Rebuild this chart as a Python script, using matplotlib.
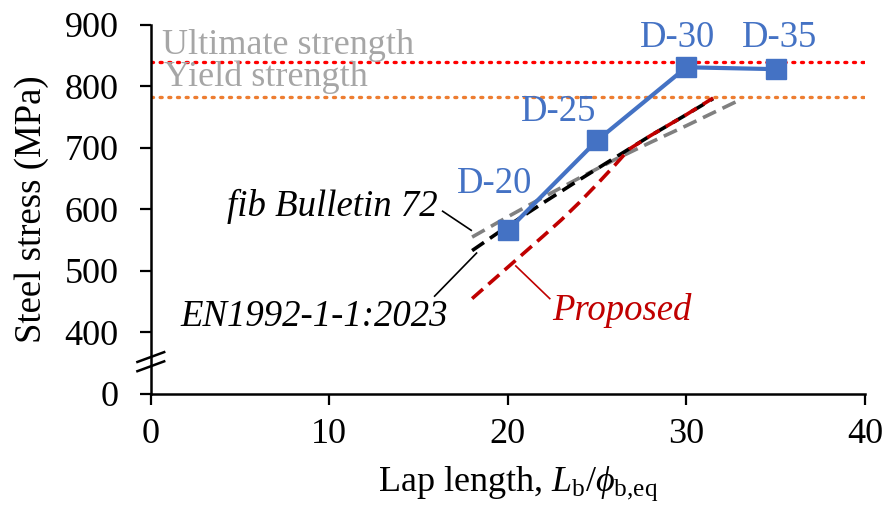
import numpy as np
import matplotlib.pyplot as plt

plt.rcParams['font.family'] = ['Liberation Serif', 'DejaVu Serif']
plt.rcParams['mathtext.fontset'] = 'custom'
plt.rcParams['mathtext.rm'] = 'Liberation Serif'
plt.rcParams['mathtext.it'] = 'Liberation Serif:italic'

# test results
specimens = ['D-20', 'D-25', 'D-30', 'D-35']
lap_test = [20, 25, 30, 35]
stress_test = [566, 712, 831, 828]

# design code curves
lap_fib = [18, 20, 22, 24, 26, 28, 30, 33]
stress_fib = [555, 588, 620, 651, 681, 709, 736, 778]
lap_en = [18, 20, 22, 24, 26, 28, 30, 31.5]
stress_en = [533, 573, 611, 648, 684, 720, 754, 780]
lap_prop = [18, 20, 22, 23, 24, 25, 26, 26.8, 28, 29, 30, 31.5]
stress_prop = [455, 506, 557, 583, 611, 641, 672, 698, 720, 737, 754, 781]

f_ult = 840
f_yield = 782

# y axis is broken: 0 drawn one step below 400
y_ticks = [0, 400, 500, 600, 700, 800, 900]
y_zero_pos = 300

blue = '#4472C4'
dark_red = '#C00000'

fig = plt.figure(figsize=(8.87, 5.07), dpi=100)
ax = fig.add_axes([0.170, 0.223, 0.805, 0.728])

ax.axhline(f_ult, color='#FF0000', lw=2.4, ls=(0, (0.6, 2.0)), dash_capstyle='round')
ax.axhline(f_yield, color='#ED7D31', lw=2.4, ls=(0, (0.6, 2.0)), dash_capstyle='round')
ax.text(0.65, 852, 'Ultimate strength', color='#A6A6A6', fontsize=26, ha='left', va='baseline')
ax.text(0.75, 801, 'Yield strength', color='#A6A6A6', fontsize=26, ha='left', va='baseline')

ax.plot(lap_fib, stress_fib, color='#808080', lw=2.6, ls=(0, (4, 2)))
ax.plot(lap_en, stress_en, color='black', lw=2.6, ls=(0, (4, 2)))
ax.plot(lap_prop, stress_prop, color=dark_red, lw=2.6, ls=(0, (4, 2)))

ax.plot(lap_test, stress_test, color=blue, lw=3, marker='s', ms=14, zorder=5)
label_offsets = [(-0.75, 76), (-2.15, 46), (-0.5, 48), (0.2, 51)]
for name, x, y, (dx, dy) in zip(specimens, lap_test, stress_test, label_offsets):
    ax.text(x + dx, y + dy, name, color=blue, fontsize=26.5, ha='center', va='center')

# curve labels with leader lines
ax.text(16.05, 589, 'fib Bulletin 72', style='italic', fontsize=26.5, ha='right', va='baseline')
ax.plot([16.35, 17.95], [597, 566], color='black', lw=1.2)
ax.text(16.65, 410, 'EN1992-1-1:2023', style='italic', fontsize=26.5, ha='right', va='baseline')
ax.plot([15.9, 18.25], [459, 529], color='black', lw=1.2)
ax.text(22.5, 421, 'Proposed', style='italic', color=dark_red, fontsize=26.5, ha='left', va='baseline')
ax.plot([20.45, 22.35], [508, 455], color=dark_red, lw=1.2)

ax.set_xlim(0, 40)
ax.set_ylim(y_zero_pos, 900)
ax.set_xticks([0, 10, 20, 30, 40])
ax.set_yticks([y_zero_pos] + y_ticks[1:])
ax.set_yticklabels([str(v) for v in y_ticks])
ax.tick_params(labelsize=26, width=1.6, length=8, direction='out')
ax.tick_params(axis='x', pad=9)
ax.tick_params(axis='y', pad=15)
for side in ['top', 'right']:
    ax.spines[side].set_visible(False)
for side in ['left', 'bottom']:
    ax.spines[side].set_linewidth(1.8)

# break marks on the y axis
for yb in [345, 360]:
    ax.plot([-0.75, 0.75], [yb - 8, yb + 8], color='black', lw=1.8, clip_on=False)

ax.set_ylabel('Steel stress (MPa)', fontsize=26.5)
ax.yaxis.set_label_coords(-0.142, 0.5)
ax.set_xlabel(r'Lap length, $L_\mathrm{b}$/$\phi_{\mathrm{b{,}eq}}$', fontsize=26)
ax.xaxis.set_label_coords(0.515, -0.19)

fig.savefig('out.png', dpi=100)
